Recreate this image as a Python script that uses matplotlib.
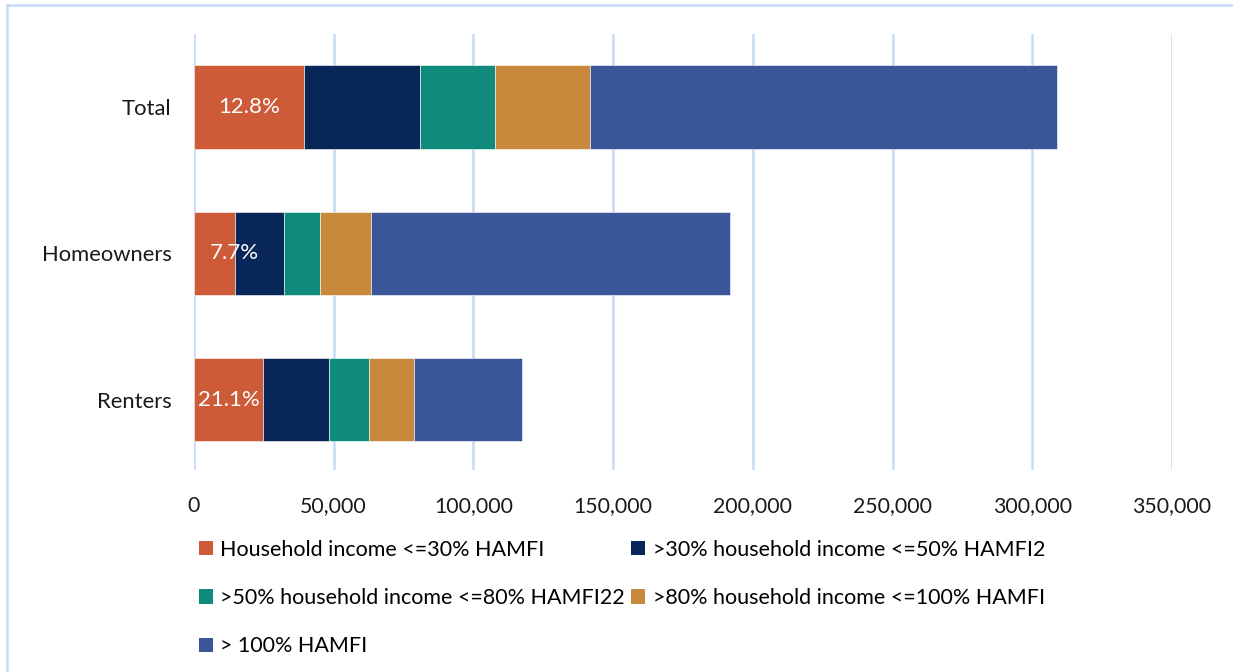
import matplotlib
matplotlib.use("Agg")
import matplotlib.pyplot as plt
from matplotlib.lines import Line2D
from matplotlib.patches import Patch
from matplotlib.ticker import FuncFormatter

plt.rcParams['font.family'] = ['Lato', 'DejaVu Sans']

categories = ["Total", "Homeowners", "Renters"]
series_names = [
    "Household income <=30% HAMFI",
    ">30% household income <=50% HAMFI2",
    ">50% household income <=80% HAMFI22",
    ">80% household income <=100% HAMFI",
    "> 100% HAMFI",
]
le30 = [39400, 14800, 24800]
le50 = [41600, 17500, 23700]
le80 = [26800, 12900, 14300]
le100 = [34100, 18200, 15800]
gt100 = [166900, 128300, 38800]
pct_labels = ["12.8%", "7.7%", "21.1%"]
xticks = [0, 50000, 100000, 150000, 200000, 250000, 300000, 350000]

colors = ["#CD5B37", "#082657", "#108A7B", "#C8893C", "#3A5698"]
grid_color = "#C6DAF5"

fig = plt.figure(figsize=(12.33, 6.72), dpi=100)
ax = fig.add_axes([0.1573, 0.3006, 0.9505 - 0.1573, 0.9494 - 0.3006])

ypos = list(range(len(categories)))
left = [0] * len(categories)
series = [le30, le50, le80, le100, gt100]
handles = []
for vals, name, c in zip(series, series_names, colors):
    ax.barh(ypos, vals, left=left, height=0.57, color=c, edgecolor="white",
            linewidth=0.4, zorder=3)
    handles.append(Patch(facecolor=c, label=name))
    left = [l + v for l, v in zip(left, vals)]

# data labels in first segment
offsets = [0, 14, 0]
for i, lab in enumerate(pct_labels):
    ax.annotate(lab, (le30[i] / 2, ypos[i]), xytext=(offsets[i], 0),
                textcoords="offset points", ha="center", va="center",
                color="white", fontsize=16, zorder=4)

ax.set_xlim(0, 350000)
ax.set_ylim(2.48, -0.5)
ax.set_xticks(xticks)
ax.xaxis.set_major_formatter(FuncFormatter(lambda v, p: f"{int(v):,}"))
ax.set_yticks(ypos)
ax.set_yticklabels(categories)
ax.tick_params(axis="x", length=0, labelsize=15.3, colors="#1a1a1a", pad=19)
ax.tick_params(axis="y", length=0, labelsize=15.8, colors="#1a1a1a", pad=16)
ax.grid(axis="x", color=grid_color, linewidth=1.8, zorder=0)
ax.set_axisbelow(True)
for s in ax.spines.values():
    s.set_visible(False)

order = [0, 2, 4, 1, 3]
fig.legend([handles[i] for i in order], [series_names[i] for i in order],
           ncol=2, loc="upper left", bbox_to_anchor=(0.161, 0.197),
           frameon=False, fontsize=15.5, handlelength=0.65, handleheight=0.65,
           handletextpad=0.35, columnspacing=0.3, labelspacing=1.32,
           borderaxespad=0, borderpad=0)

# outer border (top and left)
fig.add_artist(Line2D([7 / 1233, 1], [1 - 5 / 672, 1 - 5 / 672],
                      transform=fig.transFigure, color=grid_color, linewidth=1.8))
fig.add_artist(Line2D([7 / 1233, 7 / 1233], [0, 1 - 5 / 672],
                      transform=fig.transFigure, color=grid_color, linewidth=1.8))

fig.savefig("out.png", dpi=100)
